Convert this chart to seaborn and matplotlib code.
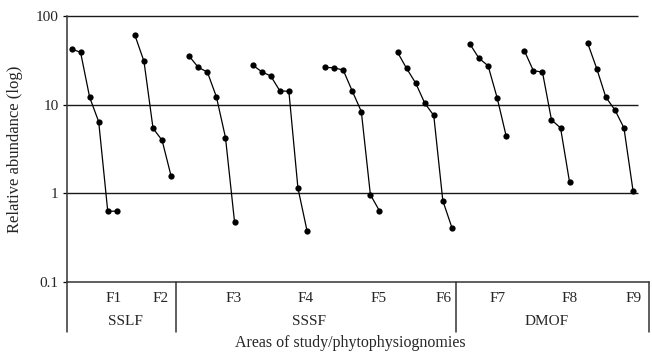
import numpy as np
import pandas as pd
import matplotlib
matplotlib.use("Agg")
import matplotlib.pyplot as plt
import seaborn as sns

# ---- data ----
sites = ["F1", "F2", "F3", "F4", "F5", "F6", "F7", "F8", "F9"]
F1 = [42.4, 38.9, 12.1, 6.4, 0.625, 0.625]
F2 = [60.6, 30.8, 5.4, 3.95, 1.55]
F3 = [35.1, 26.3, 23.3, 12.2, 4.24, 0.474]
F4 = [27.9, 23.5, 21.0, 14.3, 14.1, 1.14, 0.378]
F5 = [26.3, 26.0, 24.5, 14.2, 8.35, 0.96, 0.632]
F6 = [38.9, 25.6, 17.5, 10.4, 7.53, 0.82, 0.409]
F7 = [48.0, 33.3, 27.4, 11.9, 4.39]
F8 = [40.6, 24.1, 23.3, 6.71, 5.45, 1.32]
F9 = [49.2, 25.4, 12.1, 8.71, 5.45, 1.07]
series = [F1, F2, F3, F4, F5, F6, F7, F8, F9]

groups = ["SSLF", "SSSF", "DMOF"]
yticks = [0.1, 1, 10, 100]
ytick_labels = ["0.1", "1", "10", "100"]

# label positions in category units (as placed in reference)
site_label_pos = [4.67, 9.87, 17.86, 25.9, 33.9, 41.1, 47.1, 55.0, 62.05]
group_label_pos = [5.97, 26.2, 52.5]
separators = [11.5, 42.5, 63.8]

# ---- build long-form table: consecutive category slots, one blank slot between sites ----
rows = []
slot = 0
for name, vals in zip(sites, series):
    for v in vals:
        rows.append({"site": name, "slot": slot, "value": v})
        slot += 1
    slot += 1
df = pd.DataFrame(rows)
last_slot = df["slot"].max()

sns.set_theme(style="white")
plt.rcParams["font.family"] = ["Liberation Serif", "DejaVu Serif"]

fig = plt.figure(figsize=(6.52, 3.52), dpi=100)
W, H = 652, 352
left, right, top, bottom = 67, 649.3, 16, 281.7
ax = fig.add_axes([left / W, 1 - bottom / H, (right - left) / W, (bottom - top) / H])

ax.set_yscale("log")
ax.set_ylim(0.1, 100)
ax.set_xlim(-0.5, 63.8)

# horizontal reference lines at 1, 10 and 100
for yv in [1, 10, 100]:
    ax.hlines(yv, -0.5, last_slot + 0.5, color="#1a1a1a", lw=1.0, zorder=1, clip_on=False)

sns.lineplot(data=df, x="slot", y="value", units="site", estimator=None,
             color="black", marker="o", markersize=4.5, markeredgewidth=0,
             lw=0.9, ax=ax, legend=False, zorder=3)

ax.set_yticks(yticks)
ax.set_yticklabels(ytick_labels, fontsize=11)
ax.yaxis.set_minor_locator(matplotlib.ticker.NullLocator())
ax.set_xticks([])
ax.tick_params(axis="y", which="major", direction="out", length=3, width=0.9,
               color="black", left=True, pad=3)

for s in ["top", "right"]:
    ax.spines[s].set_visible(False)
for s in ["left", "bottom"]:
    ax.spines[s].set_color("#333333")
    ax.spines[s].set_linewidth(1.1)

ax.set_xlabel("")
ax.set_ylabel("Relative abundance (log)", fontsize=12, labelpad=9)

# category table below the axis
axh = bottom - top
def ay(pix):
    return (bottom - pix) / axh

trans = ax.get_xaxis_transform()
ax.plot([-0.5, -0.5], [0, ay(332)], color="#333333", lw=1.1, transform=trans, clip_on=False)
for xs in separators:
    ax.plot([xs, xs], [0, ay(332)], color="#333333", lw=1.1, transform=trans, clip_on=False)

for name, xp in zip(sites, site_label_pos):
    ax.text(xp, ay(298.3), name, transform=trans, ha="center", va="center", fontsize=11)
for name, xp in zip(groups, group_label_pos):
    ax.text(xp, ay(321.7), name, transform=trans, ha="center", va="center", fontsize=11)

ax.text(30.75, ay(343), "Areas of study/phytophysiognomies", transform=trans,
        ha="center", va="center", fontsize=11.5)

fig.savefig("out.png", dpi=100)
